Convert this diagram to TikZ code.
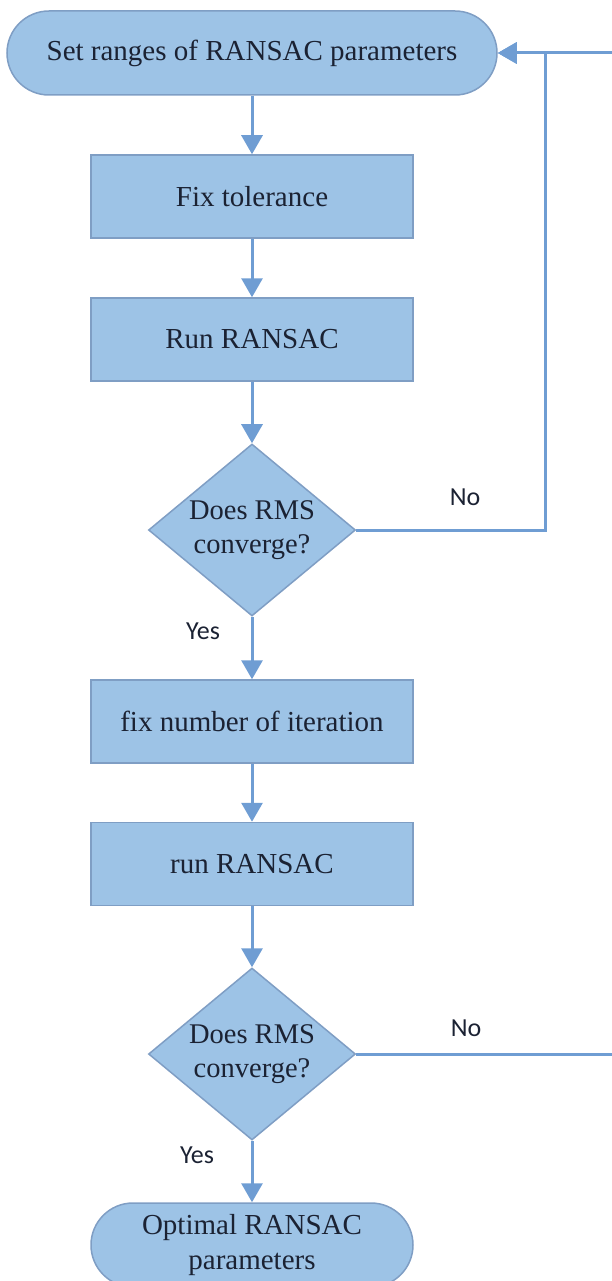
\documentclass[tikz,border=0pt]{standalone}
\usepackage{fontspec}
\setmainfont{Liberation Serif}
\newfontfamily\labfont{Carlito}
\usetikzlibrary{arrows.meta,shapes.geometric}
\definecolor{boxfill}{HTML}{9DC3E6}
\definecolor{boxline}{HTML}{7F9EC4}
\definecolor{conn}{HTML}{6F9DD3}
\definecolor{txt}{HTML}{1B2233}
\tikzset{
  base/.style={fill=boxfill, draw=boxline, line width=1.5pt, text=txt, inner sep=0pt,
    font=\fontsize{29}{35}\selectfont, align=center},
  termbox/.style={base, rectangle, rounded corners=42pt, minimum height=84pt},
  procbox/.style={base, rectangle, minimum width=322pt, minimum height=83pt},
  decbox/.style={base, diamond, shape aspect=1.2, minimum width=207pt, minimum height=172pt,
    font=\fontsize{28.5}{34}\selectfont},
  conn/.style={draw=conn, line width=3pt},
  arrowc/.style={conn, -{Triangle[width=21pt,length=19pt]}},
  lab/.style={font=\labfont\fontsize{26}{30}\selectfont, text=txt, inner sep=0pt}
}
\begin{document}
\begin{tikzpicture}[x=1pt,y=-1pt]
\useasboundingbox (0,0) rectangle (611,1281);
\node[termbox, minimum width=490pt] (start) at (252,53) {Set ranges of RANSAC parameters};
\node[procbox] (b1) at (252,196.5) {Fix tolerance};
\node[procbox] (b2) at (252,339.5) {Run RANSAC};
\node[decbox] (d1) at (252,530) {Does RMS\\converge?};
\node[procbox] (b3) at (252,721.5) {fix number of iteration};
\node[procbox] (b4) at (252,864) {run RANSAC};
\node[decbox] (d2) at (252,1054) {Does RMS\\converge?};
\node[termbox, minimum width=322pt] (end) at (252,1245) {Optimal RANSAC\\parameters};

\coordinate (c1) at (545,530);
\coordinate (c2) at (614,1054);

\draw[arrowc] (start) -- (b1);
\draw[arrowc] (b1) -- (b2);
\draw[arrowc] (b2) -- (d1);
\draw[arrowc] (d1) -- (b3);
\draw[arrowc] (b3) -- (b4);
\draw[arrowc] (b4) -- (d2);
\draw[arrowc] (d2) -- (end);
\draw[arrowc] (d1.east) -- (c1) |- (start.east);
\draw[arrowc] (d2.east) -- (c2) |- (start.east);

\node[lab] (no1) at (465,497) {No};
\node[lab] (yes1) at (203,631) {Yes};
\node[lab] (no2) at (466,1028) {No};
\node[lab] (yes2) at (197,1155) {Yes};
\end{tikzpicture}
\end{document}
